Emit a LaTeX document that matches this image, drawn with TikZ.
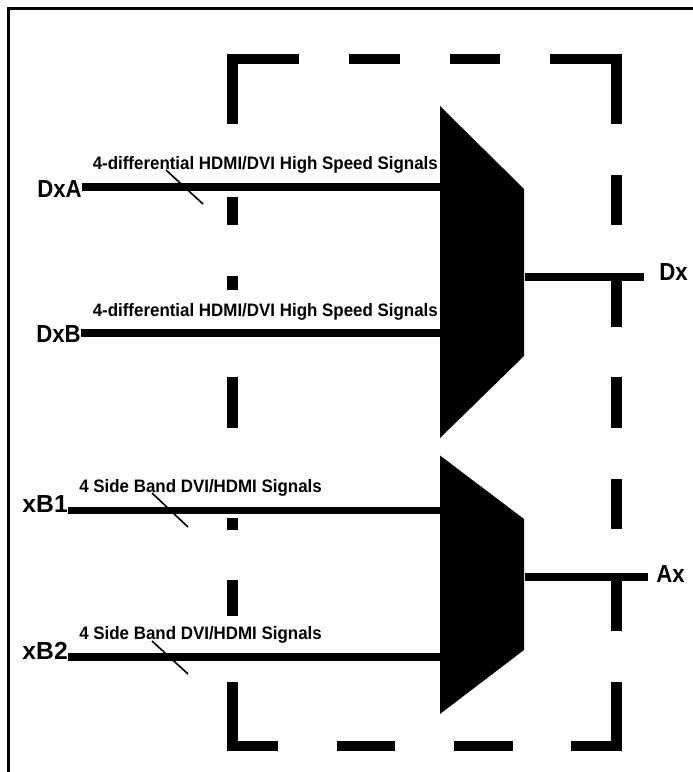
\documentclass[tikz,border=0pt]{standalone}
\usepackage{fontspec}
\setmainfont{Liberation Sans}
\newfontfamily\narrowfont[FakeStretch=0.9]{Liberation Sans}
\newfontfamily\busfont[FakeStretch=0.94]{Liberation Sans}
\usepackage{tikz}

\tikzset{
  dashbar/.style={line width=7.9pt,line cap=butt,miter limit=10},
  sigline/.style={line width=5.8pt,line cap=butt},
  outline/.style={line width=2pt},
  slashmark/.style={line width=1.2pt},
  muxshape/.style={fill=black,draw=none},
  pinlabel/.style={inner sep=0pt,font=\fontsize{18.5}{20}\selectfont\bfseries},
  pinnarrow/.style={inner sep=0pt,font=\fontsize{18.5}{20}\narrowfont\bfseries},
  buslabel/.style={inner sep=0pt,anchor=base west,font=\fontsize{13.5}{15}\busfont\bfseries},
}

\begin{document}
\begin{tikzpicture}[x=0.75pt,y=0.75pt,yscale=-1,xscale=1]
        \useasboundingbox (0,0) rectangle (693,772);

        %Shape: Outer frame
        \draw [outline] (8.7,772) -- (8.7,8.7) -- (693,8.7);

        %Shape: Dashed box, top
        \draw [dashbar] (299,59) -- (232.5,59) -- (232.5,124);
        \draw [dashbar] (349,59) -- (400,59);
        \draw [dashbar] (449.5,59) -- (500,59);
        \draw [dashbar] (550,59) -- (616.3,59) -- (616.3,124);
        %Shape: Dashed box, left side
        \draw [dashbar] (232.5,197) -- (232.5,225);
        \draw [dashbar] (232.5,276) -- (232.5,290);
        \draw [dashbar] (232.5,377) -- (232.5,428);
        \draw [dashbar] (232.5,518) -- (232.5,530);
        \draw [dashbar] (232.5,580) -- (232.5,616);
        %Shape: Dashed box, right side
        \draw [dashbar] (616.3,175) -- (616.3,225);
        \draw [dashbar] (616.3,276) -- (616.3,327);
        \draw [dashbar] (616.3,377) -- (616.3,428);
        \draw [dashbar] (616.3,479) -- (616.3,529);
        \draw [dashbar] (616.3,580.5) -- (616.3,631);
        %Shape: Dashed box, bottom
        \draw [dashbar] (232.5,682) -- (232.5,746) -- (278,746);
        \draw [dashbar] (337,746) -- (395,746);
        \draw [dashbar] (454,746) -- (512.5,746);
        \draw [dashbar] (571,746) -- (616.3,746) -- (616.3,682);

        %Shape: Upper multiplexer
        \fill [muxshape] (440,106) -- (524,189) -- (524,356) -- (440,438) -- cycle;
        %Shape: Lower multiplexer
        \fill [muxshape] (440,455.5) -- (524,519) -- (524,650) -- (440,714) -- cycle;

        \coordinate (muxAinA) at (440,187);
        \coordinate (muxAinB) at (440,333);
        \coordinate (muxBinA) at (440,510.5);
        \coordinate (muxBinB) at (440,657);
        \coordinate (muxAout) at (525,276.7);
        \coordinate (muxBout) at (525,577);
        \coordinate (dxend) at (644,276.7);
        \coordinate (axend) at (648,577);

        %Pin labels
        \node [pinnarrow,anchor=base east] (dxa) at (82,197.5) {DxA};
        \node [pinnarrow,anchor=base east] (dxb) at (81,342) {DxB};
        \node [pinlabel,anchor=base east] (xbone) at (68,512.5) {xB1};
        \node [pinlabel,anchor=base east] (xbtwo) at (68,659.5) {xB2};
        \node [pinnarrow,anchor=base west] (dx) at (659,280.5) {Dx};
        \node [pinnarrow,anchor=base west] (ax) at (656,582.5) {Ax};

        %Bus labels
        \node [buslabel] (busa) at (92.5,169.5) {4-differential HDMI/DVI High Speed Signals};
        \node [buslabel] (busb) at (92.5,316) {4-differential HDMI/DVI High Speed Signals};
        \node [buslabel] (busc) at (79,492.5) {4 Side Band DVI/HDMI Signals};
        \node [buslabel] (busd) at (79,639.5) {4 Side Band DVI/HDMI Signals};

        %Straight Lines: inputs and outputs
        \draw [sigline] (muxAinA -| dxa.east) -- (muxAinA);
        \draw [sigline] (muxAinB -| dxb.east) -- (muxAinB);
        \draw [sigline] (muxBinA -| xbone.east) -- (muxBinA);
        \draw [sigline] (muxBinB -| xbtwo.east) -- (muxBinB);
        \draw [sigline] (muxAout) -- (dxend);
        \draw [sigline] (muxBout) -- (axend);

        %Straight Lines: bus slashes
        \draw [slashmark] (166,170) -- (203,204);
        \draw [slashmark] (152,493) -- (188,527);
        \draw [slashmark] (152,641) -- (188,674);
\end{tikzpicture}
\end{document}
